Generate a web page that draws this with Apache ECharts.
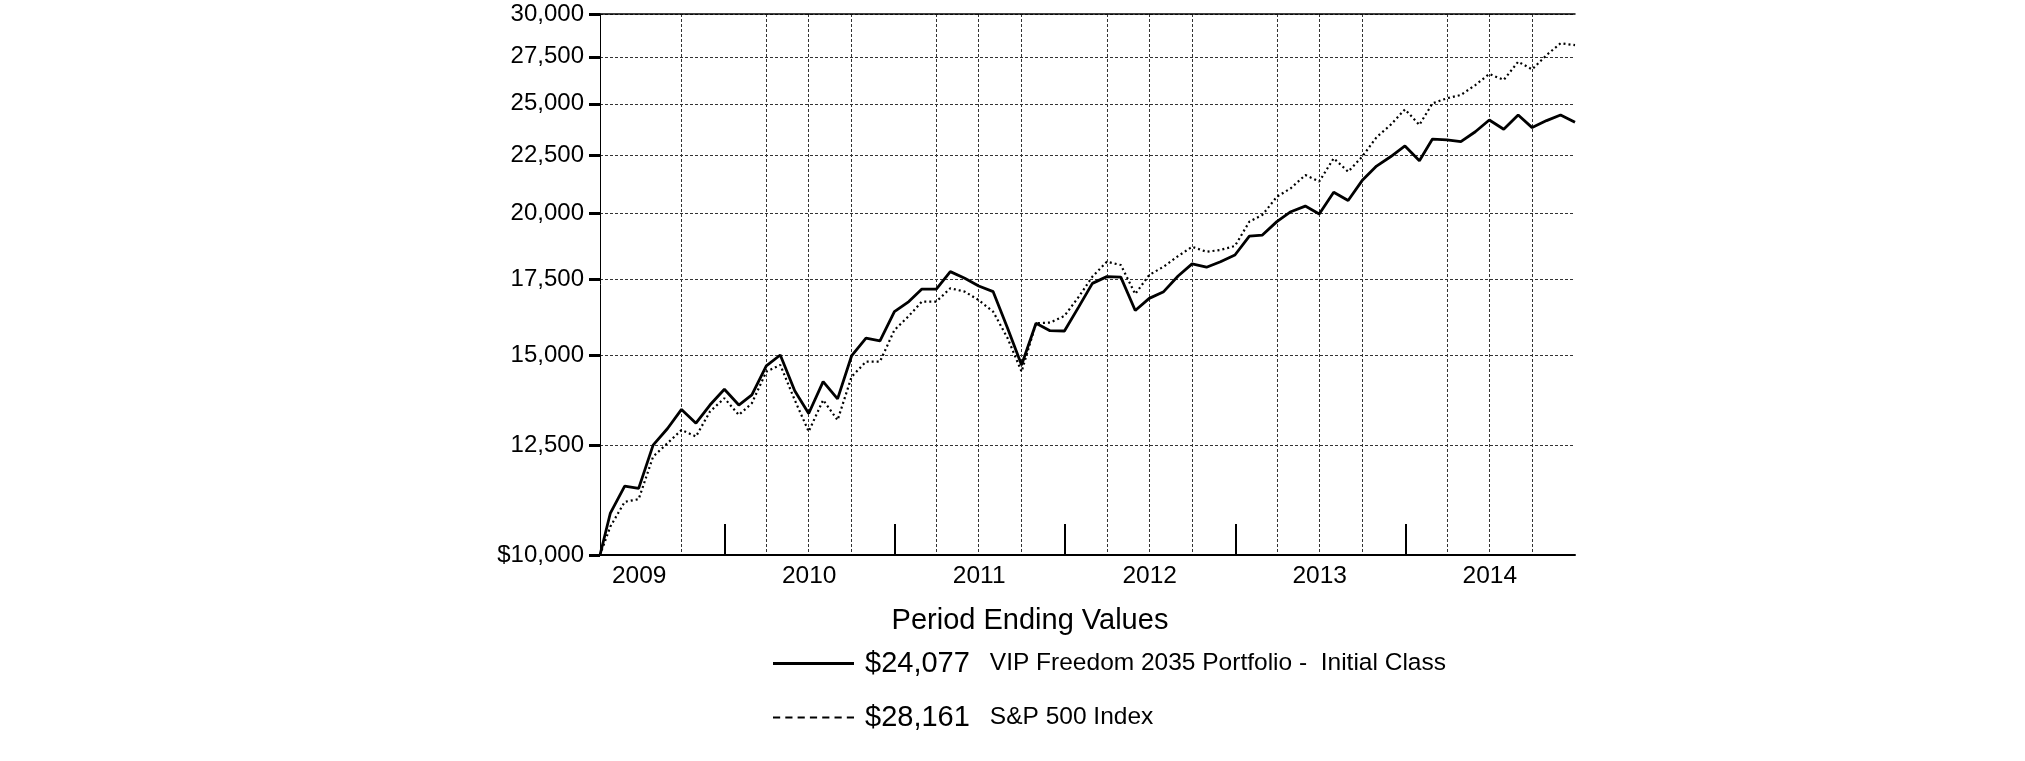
<!DOCTYPE html>
<html>
<head>
<meta charset="utf-8">
<script src="https://cdn.jsdelivr.net/npm/echarts@6/dist/echarts.min.js"></script>
<style>
  html, body { margin: 0; padding: 0; background: #fff; }
  #chart { width: 2025px; height: 761px; }
</style>
</head>
<body>
<div id="chart"></div>
<script>
// ---- data ----
const dates = [
  '2009-04-08','2009-04-30','2009-05-31','2009-06-30','2009-07-31','2009-08-31','2009-09-30','2009-10-31','2009-11-30','2009-12-31',
  '2010-01-31','2010-02-28','2010-03-31','2010-04-30','2010-05-31','2010-06-30','2010-07-31','2010-08-31','2010-09-30','2010-10-31','2010-11-30','2010-12-31',
  '2011-01-31','2011-02-28','2011-03-31','2011-04-30','2011-05-31','2011-06-30','2011-07-31','2011-08-31','2011-09-30','2011-10-31','2011-11-30','2011-12-31',
  '2012-01-31','2012-02-29','2012-03-31','2012-04-30','2012-05-31','2012-06-30','2012-07-31','2012-08-31','2012-09-30','2012-10-31','2012-11-30','2012-12-31',
  '2013-01-31','2013-02-28','2013-03-31','2013-04-30','2013-05-31','2013-06-30','2013-07-31','2013-08-31','2013-09-30','2013-10-31','2013-11-30','2013-12-31',
  '2014-01-31','2014-02-28','2014-03-31','2014-04-30','2014-05-31','2014-06-30','2014-07-31','2014-08-31','2014-09-30','2014-10-31','2014-11-30','2014-12-31'
];
const fundName = 'VIP Freedom 2035 Portfolio -  Initial Class';
const fundValues = [
  10000, 10880, 11500, 11450, 12500, 12930, 13440, 13070, 13560, 14000,
  13560, 13840, 14680, 15010, 13960, 13330, 14220, 13730, 14980, 15530, 15450, 16390,
  16730, 17160, 17160, 17780, 17540, 17270, 17070, 15850, 14710, 16010, 15770, 15760,
  16560, 17360, 17600, 17580, 16430, 16840, 17070, 17620, 18060, 17940, 18140, 18390,
  19110, 19150, 19680, 20080, 20310, 19990, 20890, 20540, 21390, 22030, 22450, 22950,
  22270, 23270, 23230, 23150, 23620, 24190, 23740, 24440, 23820, 24160, 24440, 24077
];
const indexName = 'S&P 500 Index';
const indexValues = [
  10000, 10590, 11140, 11200, 12210, 12550, 12890, 12720, 13380, 13750,
  13290, 13610, 14510, 14710, 13700, 12850, 13700, 13150, 14360, 14810, 14810, 15790,
  16250, 16730, 16730, 17190, 17070, 16780, 16390, 15530, 14510, 16010, 16030, 16250,
  16900, 17600, 18140, 18020, 16990, 17660, 17960, 18350, 18700, 18510, 18580, 18730,
  19680, 19950, 20700, 21060, 21630, 21350, 22380, 21780, 22450, 23360, 23950, 24720,
  23950, 25020, 25280, 25450, 25970, 26560, 26240, 27230, 26810, 27600, 28270, 28161
];
const yTickValues = [10000, 12500, 15000, 17500, 20000, 22500, 25000, 27500, 30000];
const yearTickDates = ['2010-01-01', '2011-01-01', '2012-01-01', '2013-01-01', '2014-01-01'];
const yearLabelDates = ['2009-07-01', '2010-07-01', '2011-07-01', '2012-07-01', '2013-07-01', '2014-07-01'];
const quarterGridDates = [
  '2009-09-30',
  '2010-03-31', '2010-06-30', '2010-09-30',
  '2011-03-31', '2011-06-30', '2011-09-30',
  '2012-03-31', '2012-06-30', '2012-09-30',
  '2013-03-31', '2013-06-30', '2013-09-30',
  '2014-03-31', '2014-06-30', '2014-09-30'
];
const xMin = '2009-04-08';
const xMax = '2014-12-31';
const legendTitle = 'Period Ending Values';

// ---- chart ----
const FONT = '"Liberation Sans", Arial, Helvetica, sans-serif';
const ts = d => Date.parse(d + 'T00:00:00Z');
const fmtNum = v => Math.round(v).toLocaleString('en-US');
const lastOf = arr => arr[arr.length - 1];
const endValues = {};
endValues[fundName] = lastOf(fundValues);
endValues[indexName] = lastOf(indexValues);

const solidIcon = 'path://M0,0L81,0L81,3L0,3Z';
const dashedIcon = 'path://M0,0h7v2h-7zM12,0h7v2h-7zM24,0h7v2h-7zM36,0h7v2h-7zM48,0h7v2h-7zM60,0h7v2h-7zM72,0h7v2h-7z';

const chart = echarts.init(document.getElementById('chart'), null, { renderer: 'canvas' });
const gridLine = { color: '#333', width: 1, type: [3, 2] };

chart.setOption({
  animation: false,
  backgroundColor: '#fff',
  textStyle: { fontFamily: FONT, color: '#000' },
  grid: { left: 600, right: 450, top: 14, bottom: 206, containLabel: false },
  xAxis: [
    {
      type: 'value', position: 'bottom', min: ts(xMin), max: ts(xMax), scale: true,
      axisLine: { show: true, onZero: false, lineStyle: { color: '#000', width: 2 } },
      axisTick: { show: true, inside: true, length: 31, customValues: yearTickDates.map(ts),
                  lineStyle: { color: '#000', width: 2 } },
      axisLabel: { show: true, customValues: yearLabelDates.map(ts), margin: 9,
                   fontSize: 24.5, color: '#000', fontFamily: FONT,
                   formatter: v => String(new Date(v).getUTCFullYear()) },
      splitLine: { show: false }
    },
    {
      type: 'value', position: 'top', min: ts(xMin), max: ts(xMax), scale: true,
      axisLine: { show: true, onZero: false, lineStyle: { color: '#000', width: 1.5 } },
      axisTick: { show: false, customValues: quarterGridDates.map(ts) },
      axisLabel: { show: false },
      splitLine: { show: true, customValues: quarterGridDates.map(ts), lineStyle: gridLine }
    }
  ],
  yAxis: {
    type: 'log', logBase: 10, min: 10000, max: 30000,
    axisLine: { show: true, onZero: false, lineStyle: { color: '#000', width: 1 } },
    axisTick: { show: true, inside: false, length: 11, customValues: yTickValues,
                lineStyle: { color: '#000', width: 3 } },
    axisLabel: { show: true, customValues: yTickValues, margin: 16,
                 fontSize: 24, color: '#000', fontFamily: FONT,
                 formatter: v => (Math.round(v) === 10000 ? '$' : '') + fmtNum(v) },
    splitLine: { show: true, customValues: yTickValues, lineStyle: gridLine }
  },
  legend: {
    orient: 'vertical', left: 768, top: 644,
    itemWidth: 81, itemHeight: 14, itemGap: 25,
    selectedMode: false,
    data: [
      { name: fundName, icon: solidIcon, itemStyle: { color: '#000' } },
      { name: indexName, icon: dashedIcon, itemStyle: { color: '#000' } }
    ],
    formatter: name => '{v|$' + fmtNum(endValues[name]) + '}{n|' + name + '}',
    textStyle: {
      color: '#000', fontFamily: FONT,
      rich: {
        v: { fontSize: 29, fontFamily: FONT, color: '#000', padding: [0, 20, 0, 6], lineHeight: 34 },
        n: { fontSize: 24.5, fontFamily: FONT, color: '#000', lineHeight: 34 }
      }
    }
  },
  graphic: [
    { type: 'text', x: 1030, y: 621, z: 10,
      style: { text: legendTitle, fill: '#000', font: '29px ' + FONT,
               textAlign: 'center', textVerticalAlign: 'middle' } }
  ],
  series: [
    {
      name: fundName, type: 'line', xAxisIndex: 0, yAxisIndex: 0,
      symbol: 'none', smooth: false, z: 5,
      lineStyle: { color: '#000', width: 2.8, type: 'solid' },
      itemStyle: { color: '#000' },
      data: dates.map((d, i) => [ts(d), fundValues[i]])
    },
    {
      name: indexName, type: 'line', xAxisIndex: 0, yAxisIndex: 0,
      symbol: 'none', smooth: false, z: 4,
      lineStyle: { color: '#000', width: 2.2, type: [2, 3] },
      itemStyle: { color: '#000' },
      data: dates.map((d, i) => [ts(d), indexValues[i]])
    }
  ]
});
</script>
</body>
</html>
